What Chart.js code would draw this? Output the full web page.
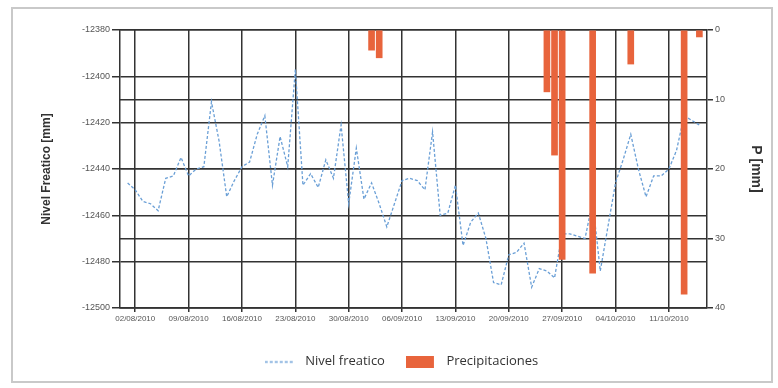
<!DOCTYPE html>
<html lang="es">
<head>
<meta charset="utf-8">
<title>Nivel freatico y precipitaciones</title>
<script src="https://cdn.jsdelivr.net/npm/chart.js@4.4.1/dist/chart.umd.min.js"></script>
<style>
  html, body { margin: 0; padding: 0; background: #ffffff; }
  #wrap { position: relative; width: 778px; height: 388px; }
  #frame { position: absolute; left: 11px; top: 7px; width: 762px; height: 376px;
           border: 2px solid #c9c9c9; box-sizing: border-box; pointer-events: none; }
  #chart { position: absolute; left: 0; top: 0; }
</style>
</head>
<body>
<div id="wrap">
  <canvas id="chart" width="778" height="388"></canvas>
  <div id="frame"></div>
</div>
<script>
// Serie diaria del nivel freatico [mm], desde el 01/08/2010 hasta el 15/10/2010
const inicioSerie = '01/08/2010';
const nivelFreatico = [
  -12446, -12449, -12454, -12455, -12458, -12444, -12443, -12435, -12443, -12440,
  -12439, -12411, -12428, -12452, -12445, -12439, -12437, -12425, -12417, -12447,
  -12426, -12439, -12397, -12447, -12442, -12448, -12436, -12444, -12421, -12455,
  -12431, -12453, -12446, -12455, -12465, -12455, -12445, -12444, -12445, -12449,
  -12424, -12460, -12459, -12447, -12473, -12463, -12459, -12470, -12489, -12490,
  -12477, -12476, -12472, -12491, -12483, -12484, -12487, -12468, -12468, -12469,
  -12470, -12454, -12484, -12465, -12446, -12436, -12425, -12440, -12452, -12443,
  -12443, -12440, -12432, -12417, -12419, -12421
];

// Dias con lluvia y precipitacion registrada [mm]
const fechasLluvia = ['02/09/2010', '03/09/2010', '25/09/2010', '26/09/2010', '27/09/2010',
                      '01/10/2010', '06/10/2010', '13/10/2010', '15/10/2010'];
const precipitacion = [2.9, 4.0, 8.9, 18.0, 33.0, 35.0, 4.9, 38.0, 1.0];

// Etiquetas del eje de fechas y limites del eje
const etiquetasFecha = ['02/08/2010', '09/08/2010', '16/08/2010', '23/08/2010', '30/08/2010',
                        '06/09/2010', '13/09/2010', '20/09/2010', '27/09/2010', '04/10/2010',
                        '11/10/2010'];
const fechaMin = '31/07/2010';
const fechaMax = '16/10/2010';

const nivelTicks = [-12500, -12380, 20];   // min, max, paso
const lluviaTicks = [0, 40, 10];           // min, max, paso

const COLOR_NIVEL = '#6a9fd6';
const COLOR_LLUVIA = '#e8643c';
const COLOR_REJILLA = '#333333';
const COLOR_TEXTO = '#555555';

// dd/mm/yyyy -> numero de dia (entero)
function dia(txt) {
  const [d, m, a] = txt.split('/').map(Number);
  return Math.round(Date.UTC(a, m - 1, d) / 86400000);
}
function textoFecha(n) {
  const f = new Date(n * 86400000);
  const dd = String(f.getUTCDate()).padStart(2, '0');
  const mm = String(f.getUTCMonth() + 1).padStart(2, '0');
  return dd + '/' + mm + '/' + f.getUTCFullYear();
}

const dia0 = dia(inicioSerie);
const puntosNivel = nivelFreatico.map((v, i) => ({ x: dia0 + i, y: v }));
const puntosLluvia = fechasLluvia.map((f, i) => ({ x: dia(f), y: precipitacion[i] }));
const diasEtiqueta = etiquetasFecha.map(dia);

// Muestras de la leyenda
function muestraLinea() {
  const c = document.createElement('canvas');
  c.width = 34; c.height = 12;
  const g = c.getContext('2d');
  g.strokeStyle = COLOR_NIVEL; g.lineWidth = 1.3; g.setLineDash([3, 2]);
  g.beginPath(); g.moveTo(0, 6.5); g.lineTo(28, 6.5); g.stroke();
  return c;
}
function muestraBarra() {
  const c = document.createElement('canvas');
  c.width = 34; c.height = 12;
  const g = c.getContext('2d');
  g.fillStyle = COLOR_LLUVIA;
  g.fillRect(0, 0, 28, 12);
  return c;
}

const rejilla = { color: COLOR_REJILLA, lineWidth: 1.5, drawTicks: true };
const borde = { color: COLOR_REJILLA, width: 1.5 };
const fuenteEje = { family: "'Liberation Sans', Arial, sans-serif", size: 9 };

new Chart(document.getElementById('chart'), {
  type: 'line',
  data: {
    datasets: [
      {
        label: 'Nivel freatico',
        data: puntosNivel,
        yAxisID: 'y',
        borderColor: COLOR_NIVEL,
        borderWidth: 1.3,
        borderDash: [3, 2],
        pointRadius: 0,
        tension: 0,
        fill: false,
        order: 1,
        pointStyle: muestraLinea()
      },
      {
        type: 'bar',
        label: 'Precipitaciones',
        data: puntosLluvia,
        yAxisID: 'y1',
        backgroundColor: COLOR_LLUVIA,
        borderWidth: 0,
        barThickness: 6,
        order: 0,
        pointStyle: muestraBarra()
      }
    ]
  },
  options: {
    responsive: false,
    animation: false,
    layout: { padding: { left: 35, right: 10, top: 30, bottom: 10 } },
    plugins: {
      tooltip: { enabled: false },
      legend: {
        position: 'bottom',
        labels: {
          usePointStyle: true,
          pointStyleWidth: 34,
          boxHeight: 12,
          padding: 21,
          color: '#333333',
          font: { family: "'Open Sans', sans-serif", size: 13 },
          sort: (a, b) => a.datasetIndex - b.datasetIndex
        }
      }
    },
    scales: {
      x: {
        type: 'linear',
        min: dia(fechaMin),
        max: dia(fechaMax),
        offset: false,
        afterBuildTicks: s => { s.ticks = diasEtiqueta.map(v => ({ value: v })); },
        afterFit: s => { s.height = 26; },
        ticks: {
          autoSkip: false, maxRotation: 0, padding: 2, color: COLOR_TEXTO,
          font: { family: "'Liberation Sans', Arial, sans-serif", size: 8 },
          callback: v => textoFecha(v)
        },
        grid: Object.assign({ offset: false, tickLength: 4 }, rejilla),
        border: borde
      },
      y: {
        position: 'left',
        min: nivelTicks[0], max: nivelTicks[1],
        afterFit: s => { s.width = 85; },
        ticks: {
          stepSize: nivelTicks[2], padding: 2, color: COLOR_TEXTO, font: fuenteEje,
          callback: v => String(v)
        },
        grid: Object.assign({ tickLength: 8 }, rejilla),
        border: borde,
        title: {
          display: true, text: 'Nivel Freatico [mm]', color: '#333',
          font: { family: "'Liberation Sans', Arial, sans-serif", size: 12, weight: 'bold' }
        }
      },
      y1: {
        position: 'right',
        min: lluviaTicks[0], max: lluviaTicks[1],
        reverse: true,
        afterFit: s => { s.width = 61; },
        ticks: {
          stepSize: lluviaTicks[2], padding: 2, color: COLOR_TEXTO, font: fuenteEje,
          callback: v => String(v)
        },
        grid: Object.assign({ tickLength: 6 }, rejilla),
        border: borde,
        title: {
          display: true, text: 'P [mm]', color: '#333',
          font: { family: "'Liberation Sans', Arial, sans-serif", size: 14, weight: 'bold' }
        }
      }
    }
  }
});
</script>
</body>
</html>
